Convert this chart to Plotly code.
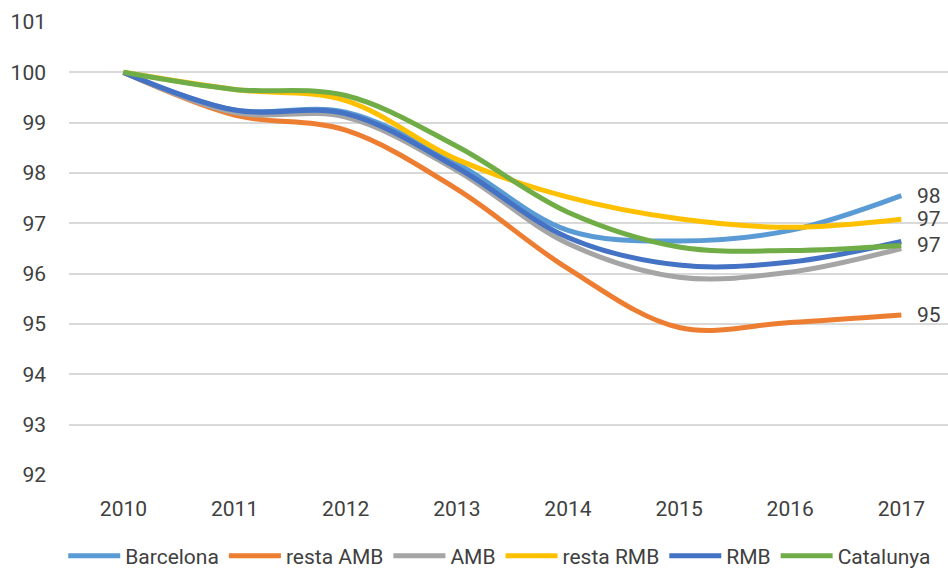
import plotly.graph_objects as go

years = ["2010", "2011", "2012", "2013", "2014", "2015", "2016", "2017"]
barcelona = [100, 99.25, 99.21, 98.19, 96.86, 96.65, 96.86, 97.55]
resta_amb = [100, 99.15, 98.85, 97.68, 96.10, 94.93, 95.03, 95.18]
amb = [100, 99.20, 99.11, 98.05, 96.60, 95.93, 96.03, 96.50]
resta_rmb = [100, 99.66, 99.44, 98.27, 97.52, 97.09, 96.92, 97.08]
rmb = [100, 99.25, 99.18, 98.11, 96.72, 96.17, 96.23, 96.64]
catalunya = [100, 99.66, 99.54, 98.53, 97.22, 96.53, 96.46, 96.56]

series = [
    ("Barcelona", barcelona, "#5B9BD5", True),
    ("resta AMB", resta_amb, "#ED7D31", True),
    ("AMB", amb, "#A5A5A5", False),
    ("resta RMB", resta_rmb, "#FFC000", True),
    ("RMB", rmb, "#4472C4", False),
    ("Catalunya", catalunya, "#70AD47", True),
]

FONT = "Roboto, Liberation Sans, Arial"
TXT = "#404040"
FS = 21

fig = go.Figure()
last_idx = len(years) - 1
for name, vals, color, labelled in series:
    fig.add_trace(go.Scatter(
        x=years, y=vals, name=name, mode="lines",
        line=dict(color=color, width=5, shape="spline", smoothing=1),
    ))
    if labelled:
        fig.add_annotation(
            x=last_idx, y=vals[-1], text=f"{vals[-1]:.0f}",
            xanchor="left", yanchor="middle", xshift=14, showarrow=False,
            font=dict(family=FONT, size=FS, color=TXT),
        )

fig.update_layout(
    width=948, height=570,
    margin=dict(l=69, r=0, t=22, b=95, autoexpand=False),
    paper_bgcolor="white", plot_bgcolor="white",
    font=dict(family=FONT, size=FS, color=TXT),
    showlegend=True,
    legend=dict(orientation="h", x=0.49, xanchor="center", y=-0.134, yanchor="top",
                font=dict(family=FONT, size=FS, color=TXT),
                itemwidth=52, tracegroupgap=0),
)
fig.update_xaxes(
    type="category", range=[-0.49, 7.42], automargin=False,
    showgrid=False, showline=False, zeroline=False,
    ticklabelstandoff=19,
    tickfont=dict(family=FONT, size=FS, color=TXT),
)
fig.update_yaxes(
    range=[92, 101], dtick=1, tick0=92, automargin=False,
    showgrid=True, gridcolor="#D9D9D9", gridwidth=2,
    zeroline=False, showline=False,
    ticklabelstandoff=22,
    tickfont=dict(family=FONT, size=FS, color=TXT),
)

fig.write_html(
    "out.html",
    config={"displayModeBar": False},
    post_script="document.body.style.margin='0';document.body.style.overflow='hidden';",
)
